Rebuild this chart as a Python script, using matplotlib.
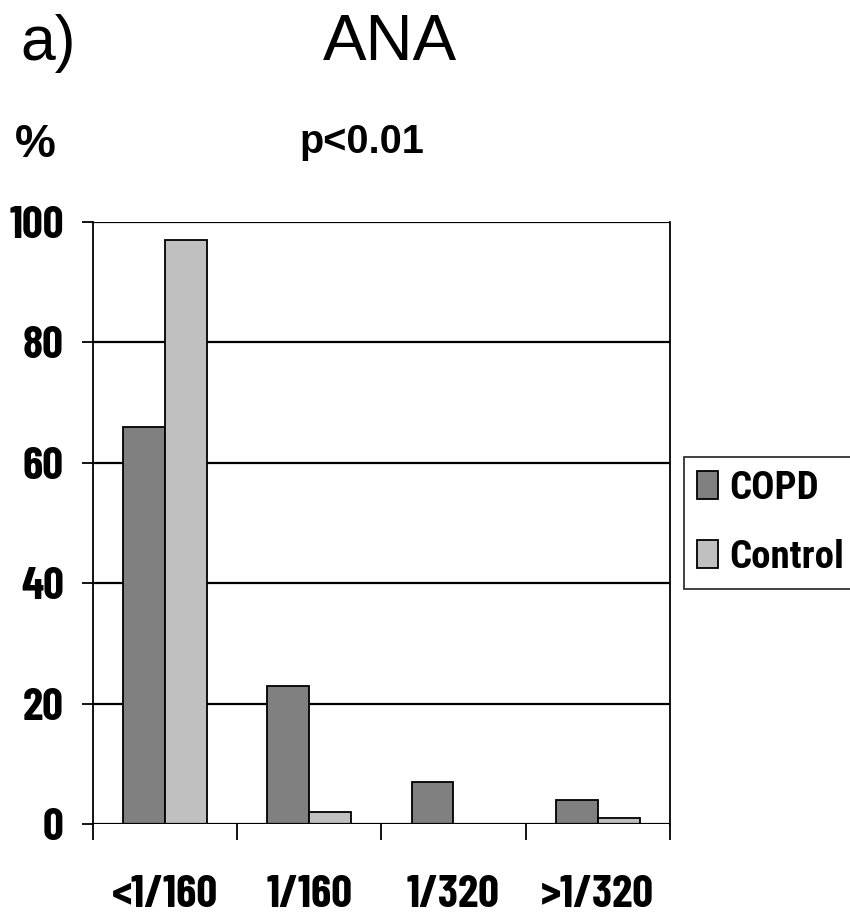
import matplotlib
matplotlib.use("Agg")
import matplotlib.pyplot as plt
import numpy as np

categories = ["<1/160", "1/160", "1/320", ">1/320"]
copd = [66, 23, 7, 4]
control = [97, 2, 0, 1]
series_names = ["COPD", "Control"]

NARROW = ["Barlow Condensed", "DejaVu Sans"]
LEGFONT = ["Roboto Condensed", "DejaVu Sans"]
REG = ["Liberation Sans", "DejaVu Sans"]

fig = plt.figure(figsize=(8.5, 9.19), dpi=100)
ax = fig.add_axes([0.1094, 0.1034, 0.788 - 0.1094, 0.7584 - 0.1034])

x = np.arange(len(categories)) + 0.5
w = 0.29
ax.bar(x - w / 2, copd, w, color="#808080", edgecolor="black", linewidth=1.3,
       label=series_names[0], zorder=3)
ax.bar(x + w / 2, control, w, color="#c0c0c0", edgecolor="black", linewidth=1.3,
       label=series_names[1], zorder=3)

ax.set_xlim(0, 4)
ax.set_ylim(0, 100)
ax.set_yticks(range(0, 101, 20))
for yv in range(20, 101, 20):
    ax.axhline(yv, color="black", lw=1.6, zorder=1)
ax.axhline(0, color="black", lw=1.6, zorder=4)

ax.spines["top"].set_visible(False)
ax.spines["bottom"].set_visible(False)
ax.spines["left"].set_linewidth(1.3)
ax.spines["right"].set_linewidth(1.3)

ax.set_xticks(x)
ax.set_xticklabels(categories)
ax.set_xticks(np.arange(0, 5), minor=True)
ax.tick_params(axis="x", which="major", length=0, pad=37)
ax.tick_params(axis="x", which="minor", length=11.5, width=1.3, direction="out")
ax.tick_params(axis="y", length=8, width=1.3, direction="out", pad=13)
for lab in ax.get_xticklabels():
    lab.set_fontfamily(NARROW)
    lab.set_fontweight("bold")
    lab.set_fontsize(33)
for lab in ax.get_yticklabels():
    lab.set_fontfamily(NARROW)
    lab.set_fontweight("bold")
    lab.set_fontsize(33)

leg = ax.legend(loc="upper left", bbox_to_anchor=(684 / 850, 1 - 457 / 919),
                bbox_transform=fig.transFigure, frameon=True,
                fancybox=False, edgecolor="black", handlelength=0.54,
                handleheight=0.74, handletextpad=0.3, borderpad=0.33,
                labelspacing=0.82, borderaxespad=0,
                prop={"family": LEGFONT, "weight": "bold", "size": 28})
leg.get_frame().set_linewidth(1.3)
for p in leg.get_patches():
    p.set_linewidth(1.3)

fig.text(20 / 850, 1 - 60 / 919, "a)", fontsize=45, family=REG,
         va="baseline", ha="left")
fig.text(390 / 850, 1 - 60 / 919, "ANA", fontsize=47, family=REG,
         va="baseline", ha="center")
fig.text(15 / 850, 1 - 157 / 919, "%", fontsize=33, family=REG, weight="bold",
         va="baseline", ha="left")
fig.text(362 / 850, 1 - 153 / 919, "p<0.01", fontsize=28.5, family=REG,
         weight="bold", va="baseline", ha="center")

fig.savefig("out.png", dpi=100)
